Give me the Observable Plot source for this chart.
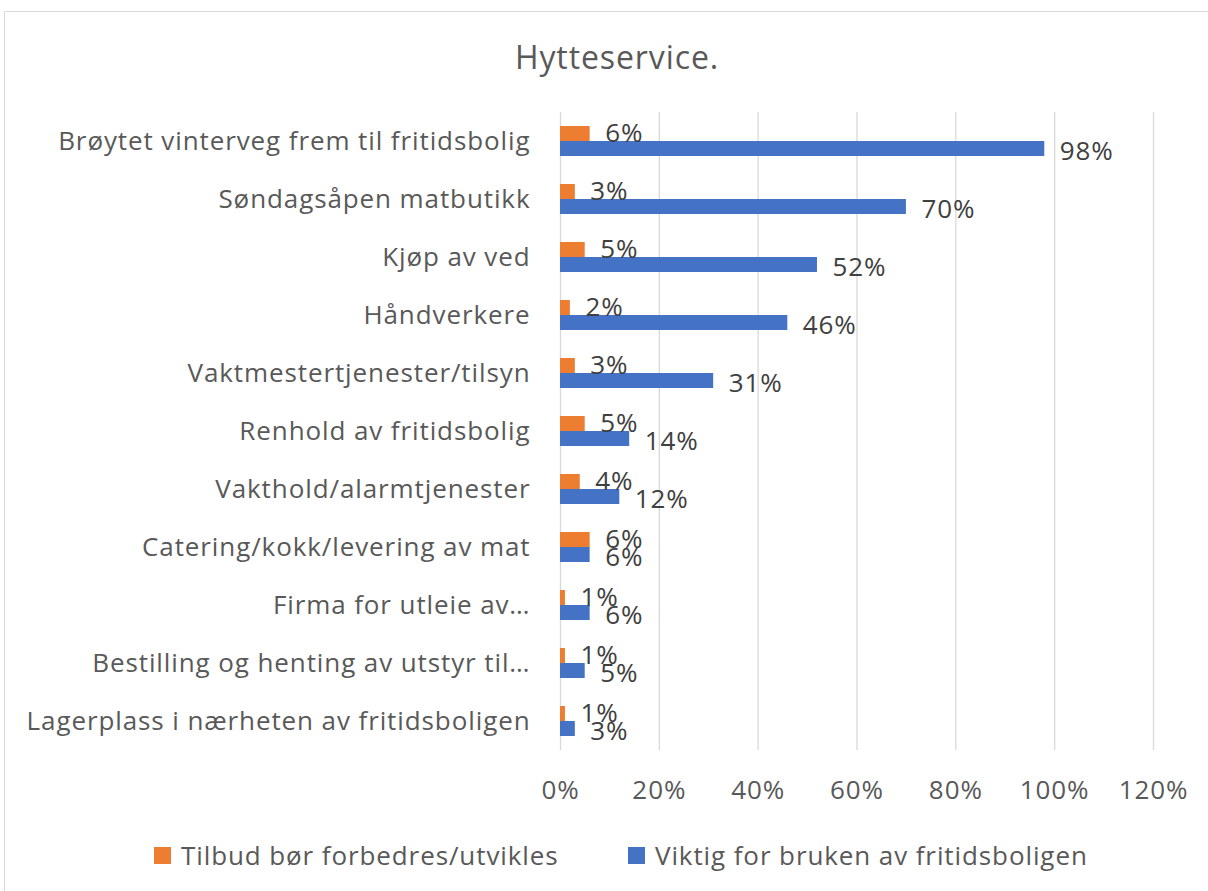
<!DOCTYPE html>
<html>
<head>
<meta charset="utf-8">
<script src="https://cdn.jsdelivr.net/npm/d3@7"></script>
<script src="https://cdn.jsdelivr.net/npm/@observablehq/plot@0.6"></script>
<style>
  body { margin: 0; background: #fff; font-family: "Open Sans", sans-serif; }
  #wrap { position: relative; width: 1208px; height: 891px; overflow: hidden; }
  #frame { position: absolute; left: 4px; top: 11px; width: 1240px; height: 920px; border: 1.5px solid #d9d9d9; box-sizing: border-box; }
  #title { position: relative; height: 100px; box-sizing: border-box; padding-top: 37px; line-height: 40px; font-size: 32px; letter-spacing: 0.9px; color: #595959; width: 1234px; text-align: center; }
  #chart { position: relative; height: 720px; }
  #legend { position: relative; height: 71px; font-size: 26px; letter-spacing: 0.9px; color: #595959; }
  .item { position: absolute; top: 19px; line-height: 32px; display: flex; align-items: center; white-space: nowrap; }
  .sw { width: 17px; height: 17px; margin-right: 10px; }
  #chart svg text { letter-spacing: 0.9px; }
</style>
</head>
<body>
<div id="wrap">
  <div id="frame"></div>
  <div id="title">Hytteservice.</div>
  <div id="chart"></div>
  <div id="legend"></div>
</div>
<script>
const categories = [
  "Brøytet vinterveg frem til fritidsbolig",
  "Søndagsåpen matbutikk",
  "Kjøp av ved",
  "Håndverkere",
  "Vaktmestertjenester/tilsyn",
  "Renhold av fritidsbolig",
  "Vakthold/alarmtjenester",
  "Catering/kokk/levering av mat",
  "Firma for utleie av…",
  "Bestilling og henting av utstyr til…",
  "Lagerplass i nærheten av fritidsboligen"
];
const tilbud = [6, 3, 5, 2, 3, 5, 4, 6, 1, 1, 1];
const viktig = [98, 70, 52, 46, 31, 14, 12, 6, 6, 5, 3];
const xTicks = [0, 20, 40, 60, 80, 100, 120];
const seriesNames = ["Tilbud bør forbedres/utvikles", "Viktig for bruken av fritidsboligen"];
const seriesColors = ["#ED7D31", "#4472C4"];

const rows = categories.map((c, i) => ({category: c, tilbud: tilbud[i], viktig: viktig[i]}));
const pct = d => d + "%";

const chart = Plot.plot({
  width: 1208,
  height: 720,
  marginLeft: 560,
  marginRight: 55,
  marginTop: 12,
  marginBottom: 70,
  style: {fontFamily: "'Open Sans', sans-serif", fontSize: "26px", color: "#595959", background: "transparent", overflow: "visible"},
  x: {domain: [0, 120], ticks: xTicks, tickFormat: pct},
  y: {domain: categories, padding: 0},
  marks: [
    Plot.gridX(xTicks, {stroke: "#d9d9d9", strokeOpacity: 1, strokeWidth: 1.3}),
    Plot.barX(rows, {x: "tilbud", y: "category", fill: seriesColors[0], insetTop: 14, insetBottom: 29}),
    Plot.barX(rows, {x: "viktig", y: "category", fill: seriesColors[1], insetTop: 29, insetBottom: 14}),
    Plot.text(rows, {x: "tilbud", y: "category", text: d => pct(d.tilbud), dx: 15, dy: -8, textAnchor: "start", fill: "#404040", fontSize: 26}),
    Plot.text(rows, {x: "viktig", y: "category", text: d => pct(d.viktig), dx: 15, dy: 10, textAnchor: "start", fill: "#404040", fontSize: 26}),
    Plot.axisX({ticks: xTicks, tickFormat: pct, tickSize: 0, tickPadding: 30, label: null, fontSize: 26}),
    Plot.axisY({tickSize: 0, tickPadding: 30, label: null, fontSize: 26})
  ]
});
document.getElementById("chart").appendChild(chart);

const legend = document.getElementById("legend");
const lefts = [154, 628];
seriesNames.forEach((name, i) => {
  const it = document.createElement("div");
  it.className = "item";
  it.style.left = lefts[i] + "px";
  const sw = document.createElement("div");
  sw.className = "sw";
  sw.style.background = seriesColors[i];
  const tx = document.createElement("span");
  tx.textContent = name;
  it.appendChild(sw);
  it.appendChild(tx);
  legend.appendChild(it);
});
</script>
</body>
</html>
